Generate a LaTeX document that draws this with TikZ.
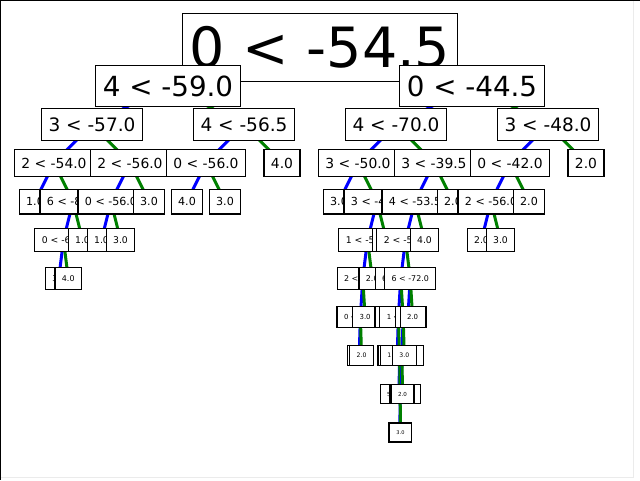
\documentclass[tikz,border=0pt]{standalone}
\usepackage{fontspec}
\setmainfont{DejaVu Sans}
\usetikzlibrary{backgrounds}
\tikzset{
  tdepth/.style={minimum height={54/(#1+1)+14},
    font={\pgfmathsetmacro\tnsize{55.5/(#1+1)}\fontsize{\tnsize pt}{\tnsize pt}\selectfont}}
}
\begin{document}
\begin{tikzpicture}[x=1pt,y=-1pt]
        \tikzstyle{treenode}=[draw, line width=1.2pt, fill=white, inner xsep=7pt, inner ysep=0pt]
        \tikzstyle{edgel}=[blue, line width=3pt]
        \tikzstyle{edger}=[green!50!black, line width=3pt]
        \useasboundingbox (0,0) rectangle (640,480);
        \draw[black!8, line width=1pt] (633,0) -- (633,477) -- (0,477);
        \draw[line width=2pt] (0,480) -- (0,0) -- (640,0);
        \node[treenode, tdepth=0] (t) at (320,47.5) {0 < -54.5};
        \foreach \n/\x/\lbl in {tl/168/4 < -59.0, tr/472/0 < -44.5}
            \node[treenode, tdepth=1] (\n) at (\x,86) {\lbl};
        \foreach \n/\x/\lbl in {tll/92/3 < -57.0, tlr/244/4 < -56.5, trl/396/4 < -70.0, trr/548/3 < -48.0}
            \node[treenode, tdepth=2] (\n) at (\x,124.5) {\lbl};
        \foreach \n/\x/\lbl in {tlll/54/2 < -54.0, tllr/130/2 < -56.0, tlrl/206/0 < -56.0, tlrr/282/4.0,
                trll/358/3 < -50.0, trlr/434/3 < -39.5, trrl/510/0 < -42.0, trrr/586/2.0}
            \node[treenode, tdepth=3] (\n) at (\x,163) {\lbl};
        \foreach \n/\x/\lbl in {tllll/35/1.0, tlllr/73/6 < -85.0, tllrl/111/0 < -56.0, tllrr/149/3.0,
                tlrll/187/4.0, tlrlr/225/3.0, trlll/339/3.0, trllr/377/3 < -45.0,
                trlrl/415/4 < -53.5, trlrr/453/2.0, trrll/491/2 < -56.0, trrlr/529/2.0}
            \node[treenode, tdepth=4] (\n) at (\x,201.5) {\lbl};
        \foreach \n/\x/\lbl in {tlllrl/63.5/0 < -62.0, tlllrr/82.5/1.0, tllrll/101.5/1.0, tllrlr/120.5/3.0,
                trllrl/367.5/1 < -52.5, trllrr/386.5/4.0, trlrll/405.5/2 < -58.0, trlrlr/424.5/4.0,
                trrlll/481.5/2.0, trrllr/500.5/3.0}
            \node[treenode, tdepth=5] (\n) at (\x,240) {\lbl};
        \foreach \n/\x/\lbl in {tlllrll/58.75/3.0, tlllrlr/68.25/4.0, trllrll/362.75/2 < -60.0,
                trllrlr/372.25/2.0, trlrlll/400.75/6 < -65.0, trlrllr/410.25/6 < -72.0}
            \node[treenode, tdepth=6] (\n) at (\x,278.5) {\lbl};
        \foreach \n/\x/\lbl in {trllrlll/360.375/0 < -61.5, trllrllr/365.125/3.0, trlrllll/398.375/3 < -47.5,
                trlrlllr/403.125/1 < -55.0, trlrllrl/407.875/4.0, trlrllrr/412.625/2.0}
            \node[treenode, tdepth=7] (\n) at (\x,317) {\lbl};
        \foreach \n/\x/\lbl in {trllrllll/359.1875/3.0, trllrlllr/361.5625/2.0, trlrlllll/397.1875/2.0,
                trlrllllr/399.5625/0 < -58.5, trlrlllrl/401.9375/1 < -51.0, trlrlllrr/404.3125/3.0}
            \node[treenode, tdepth=8] (\n) at (\x,355.5) {\lbl};
        \foreach \n/\x/\lbl in {trlrllllrl/398.96875/4.0, trlrllllrr/400.15625/5 < -66.0,
                trlrlllrll/401.34375/3.0, trlrlllrlr/402.53125/2.0}
            \node[treenode, tdepth=9] (\n) at (\x,394) {\lbl};
        \foreach \n/\x/\lbl in {trlrllllrrl/399.859375/2.0, trlrllllrrr/400.453125/3.0}
            \node[treenode, tdepth=10] (\n) at (\x,432.5) {\lbl};
        \begin{pgfonlayer}{background}
            \foreach \p in {t, tl, tr, tll, tlr, trl, trr, tlll, tllr, tlrl, trll, trlr, trrl,
                    tlllr, tllrl, trllr, trlrl, trrll, tlllrl, trllrl, trlrll, trllrll, trlrlll, trlrllr,
                    trllrlll, trlrllll, trlrlllr, trlrllllr, trlrlllrl, trlrllllrr} {
                \path[edgel] (\p.center) edge (\p l.center);
                \path[edger] (\p.center) edge (\p r.center);
            }
        \end{pgfonlayer}
      \end{tikzpicture}
\end{document}
